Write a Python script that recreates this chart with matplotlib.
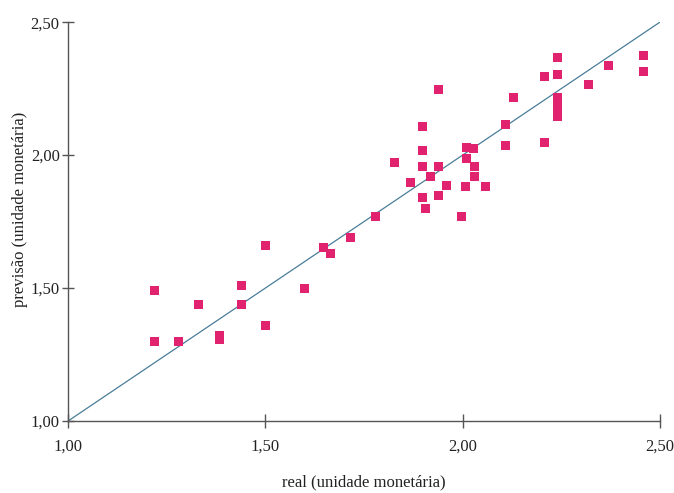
import matplotlib
matplotlib.use("Agg")
import matplotlib.pyplot as plt
from matplotlib.ticker import FuncFormatter

# valores (real x previsao)
real = [1.22, 1.22, 1.28, 1.33, 1.385, 1.385, 1.44, 1.44, 1.50, 1.50,
        1.60, 1.647, 1.666, 1.717, 1.778, 1.828, 1.868, 1.898, 1.898, 1.898,
        1.898, 1.907, 1.919, 1.938, 1.938, 1.938, 1.959, 1.997, 2.008, 2.01,
        2.01, 2.027, 2.029, 2.029, 2.058, 2.109, 2.109, 2.13, 2.208, 2.208,
        2.24, 2.24, 2.24, 2.24, 2.24, 2.24, 2.318, 2.369, 2.459, 2.459]
previsao = [1.49, 1.30, 1.30, 1.44, 1.32, 1.305, 1.511, 1.44, 1.659, 1.358,
            1.499, 1.652, 1.630, 1.689, 1.768, 1.971, 1.896, 2.106, 2.019, 1.959,
            1.841, 1.800, 1.921, 2.248, 1.959, 1.850, 1.887, 1.771, 1.883, 2.03,
            1.988, 2.025, 1.956, 1.918, 1.883, 2.115, 2.038, 2.217, 2.297, 2.048,
            2.367, 2.305, 2.218, 2.194, 2.169, 2.144, 2.265, 2.336, 2.376, 2.313]

ticks = [1.00, 1.50, 2.00, 2.50]
xlabel = "real (unidade monetária)"
ylabel = "previsão (unidade monetária)"

plt.rcParams['font.family'] = ['Liberation Serif', 'DejaVu Serif']

fig = plt.figure(figsize=(6.74, 4.93), dpi=100)
ax = fig.add_axes([0.101, 0.146, 0.878, 0.809])

# reta y = x
ax.plot([ticks[0], ticks[-1]], [ticks[0], ticks[-1]], color='#4a7d98', lw=0.9, zorder=1)
ax.scatter(real, previsao, marker='s', s=42, color='#e1236f', edgecolors='none', zorder=2)

ax.set_xlim(ticks[0], ticks[-1])
ax.set_ylim(ticks[0], ticks[-1])
ax.set_xticks(ticks)
ax.set_yticks(ticks)
fmt = FuncFormatter(lambda v, p: ("%.2f" % v).replace('.', ','))
ax.xaxis.set_major_formatter(fmt)
ax.yaxis.set_major_formatter(fmt)

for s in ['top', 'right']:
    ax.spines[s].set_visible(False)
for s in ['left', 'bottom']:
    ax.spines[s].set_color('#555555')
    ax.spines[s].set_linewidth(1.0)

ax.tick_params(axis='x', direction='inout', length=10, width=1, colors='#555555',
               labelcolor='#222222', labelsize=12, pad=8)
ax.tick_params(axis='y', direction='inout', length=8, width=1, colors='#555555',
               labelcolor='#222222', labelsize=12, pad=2)

ax.set_xlabel(xlabel, fontsize=12, color='#222222', labelpad=14)
ax.set_ylabel(ylabel, fontsize=12, color='#222222', va='center')
ax.yaxis.set_label_coords(-0.081, 0.53)

fig.savefig('out.png', dpi=100)
